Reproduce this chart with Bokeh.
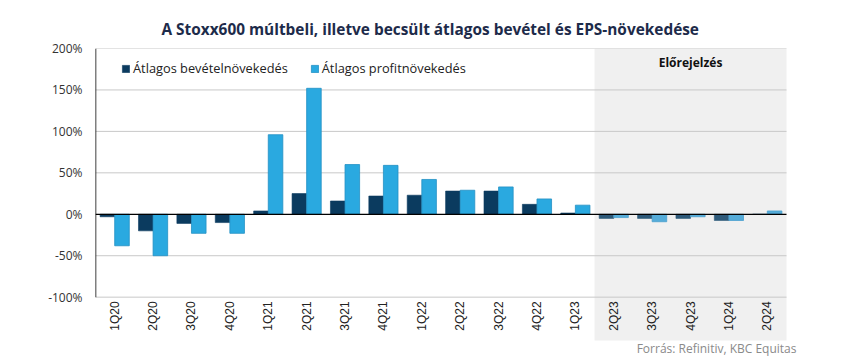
import numpy as np
from bokeh.plotting import figure
from bokeh.models import (ColumnDataSource, Range1d, FixedTicker, PrintfTickFormatter,
                          BoxAnnotation, Label, Title, Legend, LegendItem)
from bokeh.core.properties import value
from bokeh.transform import dodge
from bokeh.embed import file_html
from bokeh.resources import INLINE

categories = ["1Q20", "2Q20", "3Q20", "4Q20", "1Q21", "2Q21", "3Q21", "4Q21",
              "1Q22", "2Q22", "3Q22", "4Q22", "1Q23", "2Q23", "3Q23", "4Q23",
              "1Q24", "2Q24"]
revenue_growth = [-3, -20, -11, -10, 4, 25, 16, 22, 23, 28, 28, 12, 1.5, -5, -5, -5, -7.5, 0]
profit_growth = [-38, -50, -23, -23, 96, 152, 60, 59, 42, 29, 33, 18.5, 11, -4, -9, -3, -7.5, 4]
forecast_start = "2Q23"
y_ticks = [-100, -50, 0, 50, 100, 150, 200]

title_text = "A Stoxx600 múltbeli,  illetve  becsült átlagos bevétel  és  EPS-növekedése"
source_text = "Forrás: Refinitiv, KBC Equitas"

n = len(categories)
fi = categories.index(forecast_start)
centers = np.arange(n) + 0.5
is_fc = np.arange(n) >= fi

DARK, DARK_FC = "#0b3b5f", "#2e5a7a"
LIGHT, LIGHT_FC = "#2aa9e0", "#55acd9"

src = ColumnDataSource(dict(
    x=centers, rev=revenue_growth, prof=profit_growth, cat=categories,
    dark=[DARK_FC if f else DARK for f in is_fc],
    light=[LIGHT_FC if f else LIGHT for f in is_fc],
    lline=["#4a9fce" if f else "#2390c4" for f in is_fc],
))

# frame extends below the -100% line (category labels, source note) and a bit
# to the right of the last category (source note overhang)
y_start = -174
label_band_bottom = -152.2
x_end = n * 702 / 691

p = figure(width=842, height=358, output_backend="svg", toolbar_location=None,
           x_range=Range1d(0, x_end), y_range=Range1d(y_start, max(y_ticks)),
           min_border_left=95, min_border_right=45, min_border_top=48, min_border_bottom=0)
p.outline_line_color = None
p.background_fill_color = "white"
p.border_fill_color = "white"

# forecast shading
p.add_layout(BoxAnnotation(left=fi, right=n, bottom=label_band_bottom, top=max(y_ticks),
                           fill_color="#f0f0f0", fill_alpha=1.0,
                           line_color=None, level="image"))

# axes
p.xaxis.visible = False
p.xgrid.visible = False
p.ygrid.visible = False
yax = p.yaxis[0]
yax.ticker = FixedTicker(ticks=y_ticks)
yax.formatter = PrintfTickFormatter(format="%d%%")
yax.axis_line_color = None
yax.major_tick_line_color = None
yax.minor_tick_line_color = None
yax.major_label_text_font = "Open Sans"
yax.major_label_text_font_size = "12px"
yax.major_label_text_color = "#333333"
yax.major_label_standoff = 7

# horizontal grid lines across the category span
grid_ticks = [t for t in y_ticks if t != 0]
p.segment(x0=[0] * len(grid_ticks), x1=[n] * len(grid_ticks), y0=grid_ticks, y1=grid_ticks,
          line_color="#c8c8c8", line_width=1, level="underlay")

bw = 0.38
r1 = p.vbar(x=dodge("x", -bw / 2), top="rev", bottom=0, width=bw, source=src,
            fill_color="dark", line_color="dark", line_width=0.6)
r2 = p.vbar(x=dodge("x", bw / 2), top="prof", bottom=0, width=bw, source=src,
            fill_color="light", line_color="lline", line_width=0.8)

# zero line and left axis line
p.segment(x0=[0], y0=[0], x1=[n], y1=[0], line_color="black", line_width=1.2)
p.segment(x0=[0], y0=[min(y_ticks)], x1=[0], y1=[max(y_ticks)], line_color="black", line_width=1.5)

# category labels (rotated)
p.text(x="x", y=min(y_ticks) - 5, text="cat", source=src, angle=np.pi / 2,
       text_align="right", text_baseline="middle", text_font=value("Liberation Sans"),
       text_font_size="12px", text_color="#222222")

# forecast label
p.add_layout(Label(x=(fi + n) / 2, y=max(y_ticks), y_offset=-5, text="Előrejelzés",
                   text_align="center", text_baseline="top", text_font="Open Sans",
                   text_font_style="bold", text_font_size="12px", text_color="#111111"))

# source note
p.add_layout(Label(x=x_end, y=label_band_bottom, x_offset=-1, text=source_text,
                   text_align="right", text_baseline="top", text_font="Open Sans",
                   text_font_size="12px", text_color="#8a8a8a"))

# legend
legend = Legend(items=[LegendItem(label="Átlagos bevételnövekedés", renderers=[r1]),
                       LegendItem(label="Átlagos profitnövekedés", renderers=[r2])],
                orientation="horizontal", location=(26, 281),
                background_fill_alpha=0, border_line_color=None,
                label_text_font="Open Sans", label_text_font_size="12.8px",
                label_text_color="#222222", glyph_width=9, glyph_height=9,
                label_standoff=3, spacing=22, padding=4, margin=0)
p.add_layout(legend)

# title
p.title = Title(text=title_text, align="left", text_font="Open Sans",
                text_font_size="15.4px", text_font_style="bold", text_color="#1d2b4a",
                offset=66, standoff=18)

open("out.html", "w").write(file_html(p, INLINE))
